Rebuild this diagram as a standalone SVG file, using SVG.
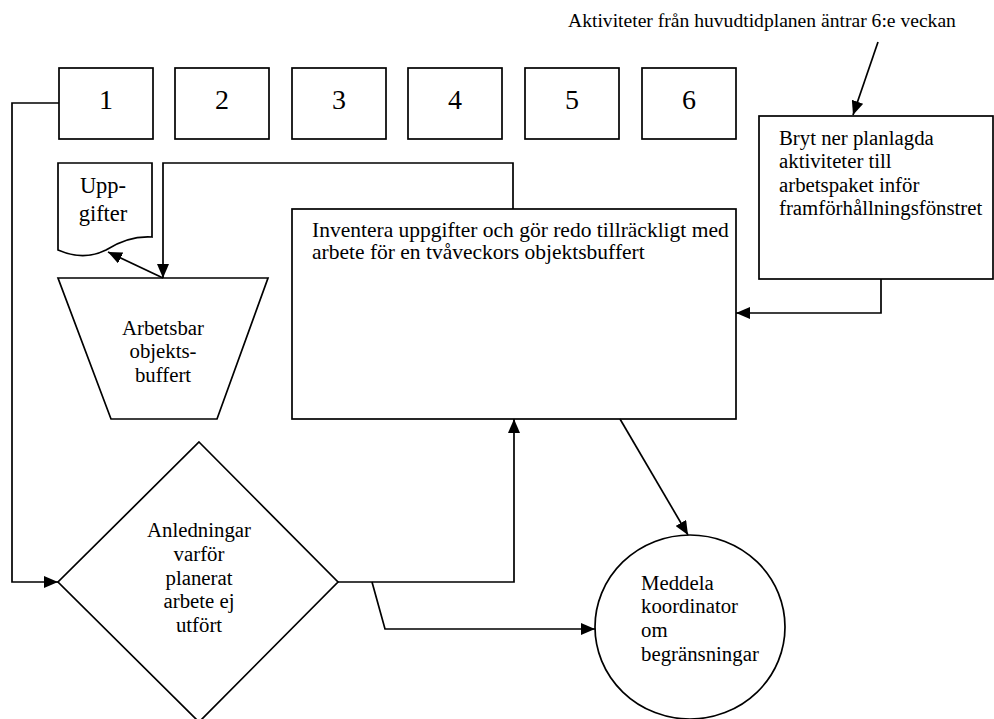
<svg xmlns="http://www.w3.org/2000/svg" width="994" height="719" viewBox="0 0 994 719">
  <style>
    .shape { fill: #fff; stroke: #000; stroke-width: 1.7; }
    .line { fill: none; stroke: #000; stroke-width: 1.7; }
    text { font-family: "Liberation Serif", "Times New Roman", serif; fill: #000; }
    .t { font-size: 20.8px; }
    .num { font-size: 28px; text-anchor: middle; }
    .mid { text-anchor: middle; }
  </style>
  <defs>
    <marker id="arrow" viewBox="0 0 14 12" refX="14" refY="6" markerWidth="14" markerHeight="12" markerUnits="userSpaceOnUse" orient="auto">
      <path d="M0,0 L14,6 L0,12 Z" fill="#000"/>
    </marker>
  </defs>
  <rect width="994" height="719" fill="#fff"/>

  <!-- week boxes -->
  <g id="week1"><rect class="shape" x="59" y="68" width="94" height="71"/><text class="num" x="106" y="109">1</text></g>
  <g id="week2"><rect class="shape" x="175" y="68" width="94" height="71"/><text class="num" x="222" y="109">2</text></g>
  <g id="week3"><rect class="shape" x="292" y="68" width="94" height="71"/><text class="num" x="339" y="109">3</text></g>
  <g id="week4"><rect class="shape" x="408" y="68" width="94" height="71"/><text class="num" x="455" y="109">4</text></g>
  <g id="week5"><rect class="shape" x="525" y="68" width="94" height="71"/><text class="num" x="572" y="109">5</text></g>
  <g id="week6"><rect class="shape" x="642" y="68" width="94" height="71"/><text class="num" x="689" y="109">6</text></g>

  <!-- incoming activities label -->
  <g id="activities-label">
    <text x="568" y="27" style="font-size:19.6px">Aktiviteter från huvudtidplanen äntrar 6:e veckan</text>
  </g>

  <!-- break-down box -->
  <g id="breakdown">
    <rect class="shape" x="759" y="116" width="234" height="163"/>
    <text class="t" x="779" y="145">Bryt ner planlagda</text>
    <text class="t" x="779" y="168">aktiviteter till</text>
    <text class="t" x="779" y="192">arbetspaket inför</text>
    <text class="t" x="779" y="215">framförhållningsfönstret</text>
  </g>

  <!-- inventory box -->
  <g id="inventory">
    <rect class="shape" x="292" y="209" width="444" height="210"/>
    <text class="t" x="312" y="237" style="font-size:21.5px">Inventera uppgifter och gör redo tillräckligt med</text>
    <text class="t" x="312" y="259" style="font-size:21.5px">arbete för en tvåveckors objektsbuffert</text>
  </g>

  <!-- task document -->
  <g id="tasks">
    <path class="shape" d="M58,163 H152 V237 C135,236 120,241 106,250 C90,258 74,257 58,250 Z"/>
    <text class="mid" x="103" y="193" style="font-size:22.5px">Upp-</text>
    <text class="mid" x="103" y="221" style="font-size:22.5px">gifter</text>
  </g>

  <!-- workable backlog -->
  <g id="backlog">
    <path class="shape" d="M58,278 H268 L217,419 H111 Z"/>
    <text class="t mid" x="163" y="335">Arbetsbar</text>
    <text class="t mid" x="163" y="358">objekts-</text>
    <text class="t mid" x="163" y="382">buffert</text>
  </g>

  <!-- reasons decision -->
  <g id="reasons">
    <path class="shape" d="M199,442 L338,582 L199,722 L58,582 Z"/>
    <text class="t mid" x="199" y="537">Anledningar</text>
    <text class="t mid" x="199" y="561">varför</text>
    <text class="t mid" x="199" y="585">planerat</text>
    <text class="t mid" x="199" y="608">arbete ej</text>
    <text class="t mid" x="199" y="632">utfört</text>
  </g>

  <!-- notify coordinator -->
  <g id="notify">
    <ellipse class="shape" cx="690" cy="627" rx="95" ry="92"/>
    <text class="t" x="641" y="590">Meddela</text>
    <text class="t" x="641" y="613">koordinator</text>
    <text class="t" x="641" y="637">om</text>
    <text class="t" x="641" y="661">begränsningar</text>
  </g>

  <!-- connectors -->
  <g id="connectors">
    <path class="line" d="M59,103 H12 V582 H58" marker-end="url(#arrow)"/>
    <path class="line" d="M513,209 V163 H163 V278" marker-end="url(#arrow)"/>
    <path class="line" d="M163,278 L108,252" marker-end="url(#arrow)"/>
    <path class="line" d="M878,42 L853,115" marker-end="url(#arrow)"/>
    <path class="line" d="M881,279 V313 H736" marker-end="url(#arrow)"/>
    <path class="line" d="M338,582 H514 V419" marker-end="url(#arrow)"/>
    <path class="line" d="M372,582 L385,629 H595" marker-end="url(#arrow)"/>
    <path class="line" d="M620,419 L688,535" marker-end="url(#arrow)"/>
  </g>
</svg>
